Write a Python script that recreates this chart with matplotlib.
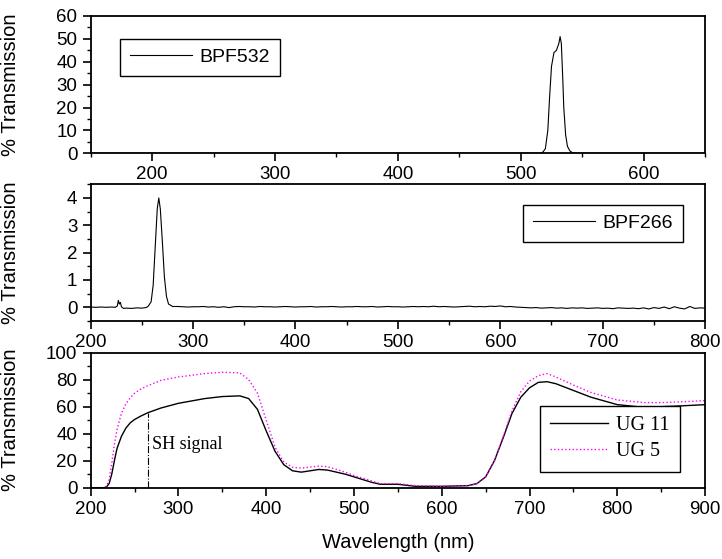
import matplotlib.pyplot as plt
from matplotlib.ticker import MultipleLocator

plt.rcParams['font.family'] = ['Liberation Sans', 'DejaVu Sans']

# BPF532 band-pass filter
wl532 = [150, 500, 515, 518, 520, 522, 523.5, 525, 527, 529, 531, 532, 533, 534, 535, 536.5, 538, 540, 542, 545, 560, 650]
tr532 = [0, 0, 0, 0.5, 2, 10, 25, 38, 44, 45, 48, 51, 48, 35, 20, 8, 3, 1, 0.3, 0, 0, 0]

# BPF266 band-pass filter (peak region, then noisy baseline every 5 nm)
wl266_peak = [200, 205, 210, 215, 220, 224, 226, 227, 228, 229, 230, 232, 235, 240, 245, 250, 254, 256,
              259, 261, 263, 265, 266.5, 268, 270, 272, 274, 276]
tr266_peak = [0.01, 0.0, 0.01, 0.0, 0.01, 0.0, 0.05, 0.25, 0.12, 0.18, 0.02, -0.04, -0.03, -0.04, -0.02, -0.03,
              -0.01, 0.03, 0.2, 0.8, 2.2, 3.6, 4.0, 3.6, 2.4, 1.1, 0.4, 0.12]
wl266_base = list(range(280, 805, 5))
tr266_base = [0.03, 0.03, 0.02, 0.01, 0.02, 0.02, 0.03, 0.01, 0.02, 0.00, 0.02, -0.01, 0.02, 0.03, 0.02,
              0.02, 0.01, 0.03, 0.02, 0.02, 0.01, 0.02, 0.03, 0.02, 0.01, 0.02, 0.02, 0.03, 0.01, 0.02,
              0.02, 0.03, 0.02, 0.01, 0.02, 0.02, 0.03, 0.02, 0.02, 0.03, 0.01, 0.02, 0.03, 0.02, 0.02,
              0.01, 0.02, 0.03, 0.02, 0.03, 0.02, 0.04, 0.02, 0.03, 0.02, 0.01, 0.02, 0.03, 0.04, 0.02,
              0.03, 0.02, 0.04, 0.03, 0.05, 0.02, 0.03, 0.01, 0.00, -0.01, -0.02, -0.01, -0.03, -0.02, -0.01,
              -0.03, -0.02, -0.04, -0.02, -0.03, -0.02, -0.04, -0.03, -0.02, -0.04, -0.03, -0.05, -0.02, -0.03, -0.04,
              -0.03, -0.05, -0.02, -0.06, -0.01, -0.04, 0.01, -0.05, 0.02, -0.03, -0.06, 0.03, -0.04, -0.02, -0.03]

# UG11 and UG5 colour glass filters
wl_ug = [200, 210, 215, 218, 221, 224, 227, 230, 235, 240, 245, 250, 257, 265, 280, 300, 330, 350, 370, 380,
         390, 400, 410, 420, 430, 440, 460, 470, 490, 500, 520, 530, 550, 570, 600, 630, 640, 650, 660,
         670, 680, 690, 700, 710, 720, 730, 750, 770, 800, 830, 850, 870, 900]
tr_ug11 = [0, 0, 0, 0.5, 3, 10, 20, 29, 38, 44, 48, 50.5, 53, 55.5, 59, 62.5, 66, 67.5, 68, 66,
           58, 42, 27, 17, 12.5, 11.5, 13.5, 13, 10, 8, 4, 2.5, 2.5, 1, 1, 1.5, 3, 8, 20,
           37, 55, 67, 74, 78, 78.5, 77, 72, 67, 61.5, 59.5, 60, 60.5, 61.5]
tr_ug5 = [0, 0, 0, 1, 6, 18, 32, 43, 55, 62, 66.5, 70, 73, 75.5, 79.5, 82, 84.5, 85.5, 85, 80,
          70, 50, 30, 19, 15, 14.5, 16, 15.5, 11.5, 9, 5, 3, 3, 1.5, 1, 1.5, 3, 8, 20,
          38, 57, 71, 79, 83, 84.5, 82, 76, 70.5, 65, 63, 63, 63.5, 64.5]
sh_wl = 265
sh_level = 55.5

fig = plt.figure(figsize=(7.22, 5.59), dpi=100)
ax1 = fig.add_axes([0.1256, 0.7258, 0.851, 0.2456])
ax2 = fig.add_axes([0.1256, 0.4258, 0.851, 0.2445])
ax3 = fig.add_axes([0.1256, 0.1276, 0.851, 0.2415])

ax1.plot(wl532, tr532, color='black', lw=0.8, label='BPF532')
ax1.set_xlim(150, 650)
ax1.set_ylim(0, 60)
ax1.xaxis.set_major_locator(MultipleLocator(100))
ax1.xaxis.set_minor_locator(MultipleLocator(50))
ax1.yaxis.set_major_locator(MultipleLocator(10))
ax1.yaxis.set_minor_locator(MultipleLocator(5))

ax2.plot(wl266_peak + wl266_base, tr266_peak + tr266_base, color='black', lw=0.8, label='BPF266')
ax2.set_xlim(200, 800)
ax2.set_ylim(-0.5, 4.5)
ax2.xaxis.set_major_locator(MultipleLocator(100))
ax2.xaxis.set_minor_locator(MultipleLocator(50))
ax2.yaxis.set_major_locator(MultipleLocator(1))
ax2.yaxis.set_minor_locator(MultipleLocator(0.5))

ax3.plot(wl_ug, tr_ug11, color='black', lw=1.0, label='UG 11')
ax3.plot(wl_ug, tr_ug5, color='#ff00ff', lw=1.0, ls=':', label='UG 5')
ax3.plot([sh_wl, sh_wl], [0, sh_level], color='black', lw=0.8, ls='-.')
ax3.text(sh_wl + 5, 29, 'SH signal', family='Liberation Serif', fontsize=13)
ax3.set_xlim(200, 900)
ax3.set_ylim(0, 100)
ax3.xaxis.set_major_locator(MultipleLocator(100))
ax3.xaxis.set_minor_locator(MultipleLocator(50))
ax3.yaxis.set_major_locator(MultipleLocator(20))
ax3.yaxis.set_minor_locator(MultipleLocator(10))
ax3.set_xlabel('Wavelength (nm)', fontsize=14.5, labelpad=11)

for ax in (ax1, ax2, ax3):
    for s in ax.spines.values():
        s.set_linewidth(1.3)
    ax.tick_params(which='major', direction='out', length=6, width=1.2, labelsize=13.5)
    ax.tick_params(which='minor', direction='out', length=3, width=1.0)
    ax.set_ylabel('% Transmission', fontsize=14.5)
    ax.yaxis.set_label_coords(-0.115, 0.5)

leg_kw = dict(frameon=True, fancybox=False, edgecolor='black', borderpad=0.5, handletextpad=0.4)
l1 = ax1.legend(loc='upper left', bbox_to_anchor=(0.032, 0.905), fontsize=14,
                handlelength=3.2, **leg_kw)
l2 = ax2.legend(loc='upper right', bbox_to_anchor=(0.98, 0.92), fontsize=14,
                handlelength=3.2, **leg_kw)
l3 = ax3.legend(loc='lower right', bbox_to_anchor=(0.975, 0.045), labelspacing=0.35,
                handlelength=2.9, prop={'family': 'Liberation Serif', 'size': 14.5}, **leg_kw)
for lg in (l1, l2, l3):
    lg.get_frame().set_linewidth(1.0)
    lg.get_frame().set_alpha(1)

fig.savefig('out.png', dpi=100)
